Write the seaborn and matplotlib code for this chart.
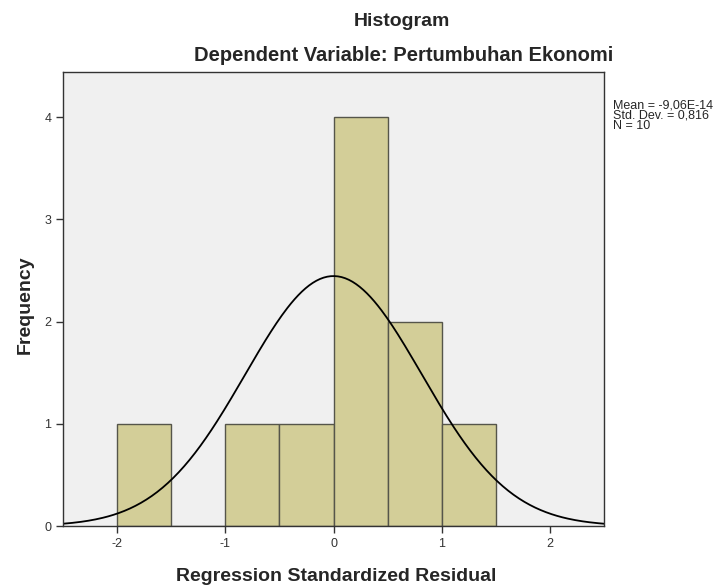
import numpy as np
import pandas as pd
import matplotlib
matplotlib.use("Agg")
import matplotlib.pyplot as plt
import seaborn as sns

# bins of the residual histogram (width 0.5) and their frequencies
bin_edges = [-2.0, -1.5, -1.0, -0.5, 0.0, 0.5, 1.0, 1.5]
bin_counts = [1, 0, 1, 1, 4, 2, 1]

# summary stats shown next to the chart
mean_val = -9.06e-14
std_val = 0.816
n_obs = 10
stat_lines = ["Mean = -9,06E-14", "Std. Dev. = 0,816", "N = 10"]

sns.set_style("white")
plt.rcParams['font.family'] = ['Liberation Sans', 'DejaVu Sans']
plt.rcParams['axes.unicode_minus'] = False

centers = [(a + b) / 2 for a, b in zip(bin_edges[:-1], bin_edges[1:])]
df = pd.DataFrame({"resid": centers, "count": bin_counts})

fig = plt.figure(figsize=(7.26, 5.87), dpi=100)
ax = fig.add_axes([0.0868, 0.1039, 0.7452, 0.7734])
ax.set_facecolor("#F0F0F0")

sns.histplot(data=df, x="resid", weights="count", bins=bin_edges, ax=ax,
             color="#D3CE98", edgecolor="#55554A", linewidth=1.0, alpha=1.0)

# normal curve scaled to counts
bw = bin_edges[1] - bin_edges[0]
xs = np.linspace(-2.5, 2.5, 300)
ys = n_obs * bw / (std_val * np.sqrt(2 * np.pi)) * np.exp(-0.5 * ((xs - mean_val) / std_val) ** 2)
sns.lineplot(x=xs, y=ys, ax=ax, color="black", linewidth=1.3)

ax.set_xlim(-2.5, 2.5)
ax.set_ylim(0, 4.44)
ax.set_xticks([-2, -1, 0, 1, 2])
ax.set_yticks([0, 1, 2, 3, 4])
ax.tick_params(axis="both", direction="out", length=5, width=1, color="#333333",
               labelsize=9, labelcolor="#333333", bottom=True, left=True)
for s in ax.spines.values():
    s.set_color("#333333")
    s.set_linewidth(1.0)

ax.set_xlabel("Regression Standardized Residual", fontsize=14, fontweight="bold")
ax.xaxis.label.set_va("baseline")
ax.xaxis.set_label_coords(0.505, -0.121)
ax.set_ylabel("Frequency", fontsize=14, fontweight="bold")
ax.yaxis.label.set_va("center")
ax.yaxis.set_label_coords(-0.07, 0.487)

fig.text(0.553, 0.9557, "Histogram", ha="center", va="baseline", fontsize=14, fontweight="bold")
fig.text(0.556, 0.896, "Dependent Variable: Pertumbuhan Ekonomi", ha="center", va="baseline",
         fontsize=14.5, fontweight="bold")

# stats box text, one line each
for i, line in enumerate(stat_lines):
    fig.text(0.8445, 1 - (108 + i * 10.5) / 587, line, ha="left", va="baseline", fontsize=9)

fig.savefig("out.png", dpi=100)
